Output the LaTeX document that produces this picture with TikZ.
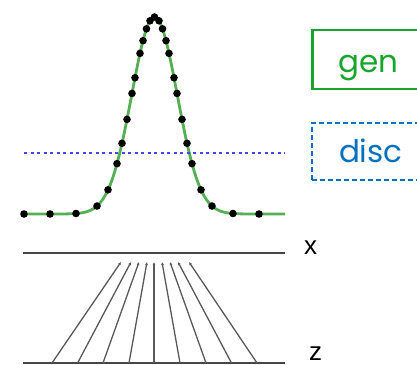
\documentclass[tikz,border=0pt]{standalone}
\usepackage{fontspec}
\setmainfont{Poppins}
\newfontfamily\axisfont{Liberation Sans}
\usetikzlibrary{arrows.meta}
\definecolor{genGreen}{RGB}{25,165,45}
\definecolor{discBlue}{RGB}{0,112,192}
\definecolor{curveGreen}{RGB}{85,175,85}
\definecolor{dotBlue}{RGB}{70,70,235}
\definecolor{lineGray}{RGB}{70,70,70}
\tikzset{
  genbox/.style   = {rectangle, draw=genGreen, line width=2.5pt, text=genGreen,
                     font=\fontsize{31}{31}\selectfont, inner xsep=26pt, inner ysep=0pt,
                     text height=42pt, text depth=17pt, anchor=base west},
  discbox/.style  = {rectangle, draw=discBlue, line width=2pt, dash pattern=on 5pt off 3pt,
                     text=discBlue, font=\fontsize{31}{31}\selectfont, inner xsep=27pt,
                     inner ysep=0pt, text height=39pt, text depth=18pt, anchor=base west},
  axislabel/.style= {font=\axisfont\fontsize{26}{26}\selectfont, anchor=base, inner sep=0pt},
  axisline/.style = {draw=lineGray, line width=2pt},
  fanline/.style  = {-{Latex[length=3pt,width=3pt]}, draw=lineGray!90, line width=1.3pt},
  curveline/.style= {draw=curveGreen, line width=2.8pt},
  threshold/.style= {draw=dotBlue, line width=2.5pt, dash pattern=on 3pt off 3.5pt}
}

\begin{document}
\begin{tikzpicture}[x=1pt, y=-1pt,
  declare function={gauss(\x)=214-197*exp(-0.5*((\x-154.5)/22.7)^2);}]
  \clip (0,0) rectangle (417,364);
  % density curve with samples
  \draw[curveline] plot[domain=24:285, samples=150, smooth] (\x,{gauss(\x)});
  \foreach \d in {-130.5,-104.5,-78.5,-57.5,-46.5,-37.5,-32.5,-27.5,-22.5,-19.5,-14.5,-11.5,-8,-4.5,
                  0,4.5,8,11.5,14.5,19.5,22.5,27.5,32.5,37.5,46.5,57.5,78.5,104.5}
    \fill ({154.5+\d},{gauss(154.5+\d)}) circle (3.8pt);
  \draw[threshold] (24,153) -- (285,153);
  % legend boxes
  \node[genbox]  (gen)  at (311,72)  {gen};
  \node[discbox] (disc) at (311,162) {disc};
  % x and z layers
  \coordinate (xl) at (23,253);  \coordinate (xr) at (285,253);
  \coordinate (zl) at (23,363);  \coordinate (zr) at (285,363);
  \draw[axisline] (xl) -- (xr);
  \draw[axisline] (zl) -- (zr);
  \node[axislabel] (xlab) at (310.5,254) {x};
  \node[axislabel] (zlab) at (315.5,360) {z};
  \foreach \b/\t [count=\i] in {52/121,77.6/131,103/139,129/147,154/154,180/162,206/170,231.5/178,257/189} {
    \coordinate (z\i) at (\b,363);
    \coordinate (x\i) at (\t,262);
    \draw[fanline] (z\i) -- (x\i);
  }
\end{tikzpicture}
\end{document}
